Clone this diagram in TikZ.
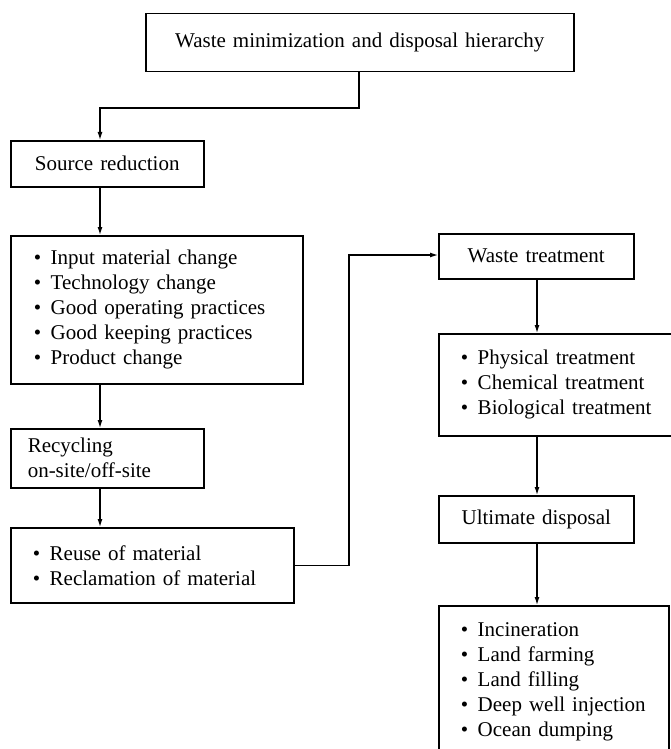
\documentclass[tikz,border=0pt]{standalone}
\usepackage{fontspec}
\setmainfont{Liberation Serif}
\usetikzlibrary{arrows.meta}
\newcommand{\itm}[1]{\makebox[17pt][l]{\textbullet}#1}
\begin{document}
\begin{tikzpicture}[x=1pt,y=-1pt,
  font=\fontsize{21}{25}\selectfont,
  box/.style={draw, line width=1.5pt, anchor=north west, inner ysep=0pt},
  cbox/.style={box, align=center, inner xsep=0pt},
  lbox/.style={box, align=left},
  arr/.style={line width=1.2pt, -{Latex[length=8pt,width=5pt]}}]
\useasboundingbox (0,0) rectangle (670,749);
\node[cbox, text width=428pt, minimum height=58pt] (top) at (145,13) {Waste minimization and disposal hierarchy};
\node[cbox, text width=193pt, minimum height=46pt] (src) at (10,140) {Source reduction};
\node[lbox, inner xsep=23pt, text width=246pt, minimum height=148pt] (b1) at (10,235)
  {\itm{Input material change}\\ \itm{Technology change}\\ \itm{Good operating practices}\\ \itm{Good keeping practices}\\ \itm{Product change}};
\node[lbox, inner xsep=17pt, text width=159pt, minimum height=59pt] (rec) at (10,428)
  {Recycling\\ on-site/off-site};
\node[lbox, inner xsep=22pt, text width=239pt, minimum height=75pt] (reuse) at (10,527)
  {\itm{Reuse of material}\\ \itm{Reclamation of material}};
\node[cbox, text width=195pt, minimum height=45pt] (wt) at (438,233) {Waste treatment};
\node[lbox, inner xsep=22pt, text width=192pt, minimum height=102pt] (tr) at (438,333)
  {\itm{Physical treatment}\\ \itm{Chemical treatment}\\ \itm{Biological treatment}};
\node[cbox, text width=195pt, minimum height=47pt] (ud) at (438,495) {Ultimate disposal};
\node[lbox, inner xsep=22pt, text width=186pt, minimum height=153pt] (disp) at (438,605)
  {\itm{Incineration}\\ \itm{Land farming}\\ \itm{Land filling}\\ \itm{Deep well injection}\\ \itm{Ocean dumping}};
\coordinate (c1) at (359,108);
\coordinate (cl) at (100,0);
\coordinate (cr) at (537,0);
\coordinate (c2) at (349,255);
\draw[arr] (c1 |- top.south) -- (c1) -- (c1 -| cl) -- (cl |- src.north);
\draw[arr] (cl |- src.south) -- (cl |- b1.north);
\draw[arr] (cl |- b1.south) -- (cl |- rec.north);
\draw[arr] (cl |- rec.south) -- (cl |- reuse.north);
\draw[arr] (reuse.east) -- (reuse.east -| c2) -- (c2) -- (wt.west |- c2);
\draw[arr] (cr |- wt.south) -- (cr |- tr.north);
\draw[arr] (cr |- tr.south) -- (cr |- ud.north);
\draw[arr] (cr |- ud.south) -- (cr |- disp.north);
\end{tikzpicture}
\end{document}
